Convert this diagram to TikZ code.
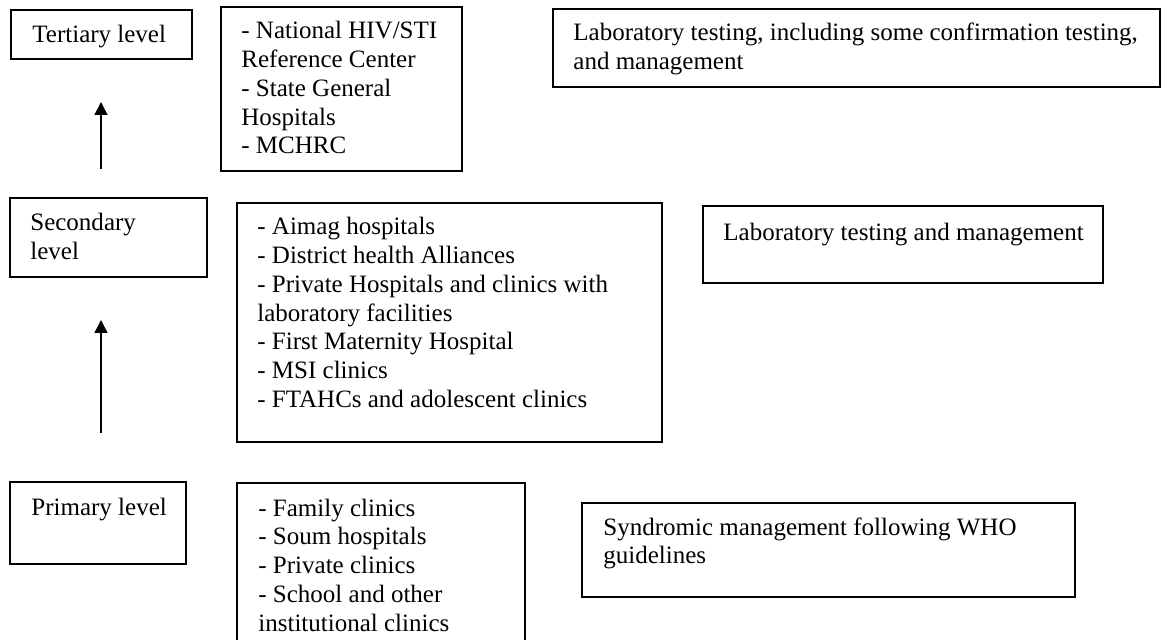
\documentclass[tikz,border=0pt]{standalone}
\usepackage{fontspec}
\setmainfont{Liberation Serif}
\usetikzlibrary{arrows.meta}
\newcommand{\boxlines}[1]{\parbox[t]{320pt}{\raggedright #1}}
\begin{document}
\begin{tikzpicture}[x=0.5pt,y=-0.5pt,
  box/.style={draw, line width=0.75pt, anchor=north west, inner sep=0pt, outer sep=0pt},
  txt/.style={anchor=base west, inner sep=0pt, font=\fontsize{12.5}{14.375}\selectfont},
  arr/.style={line width=0.75pt, -{Triangle[width=6.5pt,length=6.5pt]}}]
\useasboundingbox (0,0) rectangle (1171,640);
\clip (0,0) rectangle (1171,640);
\fill[white] (0,0) rectangle (1171,640);

% Tertiary row
\node[box, minimum width=90.5pt, minimum height=24.5pt] (tert) at (11,10) {};
\node[txt] (terttxt) at (32,43) {\boxlines{Tertiary level}};
\node[box, minimum width=120.5pt, minimum height=82pt] (tertlist) at (221,7) {};
\node[txt] (tertlisttxt) at (241,39) {\boxlines{- National HIV/STI\\Reference Center\\- State General\\Hospitals\\- MCHRC}};
\node[box, minimum width=303.5pt, minimum height=39pt] (tertright) at (553,9) {};
\node[txt] (tertrighttxt) at (573,41) {\boxlines{Laboratory testing, including some confirmation testing,\\and management}};

% Secondary row
\node[box, minimum width=98.5pt, minimum height=39.5pt] (sec) at (10,198) {};
\node[txt] (sectxt) at (30,231) {\boxlines{Secondary\\level}};
\node[box, minimum width=212.5pt, minimum height=119.5pt] (seclist) at (237,203) {};
\node[txt] (seclisttxt) at (257,235) {\boxlines{- Aimag hospitals\\- District health Alliances\\- Private Hospitals and clinics with\\laboratory facilities\\- First Maternity Hospital\\- MSI clinics\\- FTAHCs and adolescent clinics}};
\node[box, minimum width=200pt, minimum height=38.5pt] (secright) at (703,206) {};
\node[txt] (secrighttxt) at (723,241) {\boxlines{Laboratory testing and management}};

% Primary row
\node[box, minimum width=88pt, minimum height=41pt] (pri) at (10,482) {};
\node[txt] (pritxt) at (31,515) {\boxlines{Primary level}};
\node[box, minimum width=144pt, minimum height=83.5pt] (prilist) at (237,483) {};
\node[txt] (prilisttxt) at (258,516) {\boxlines{- Family clinics\\- Soum hospitals\\- Private clinics\\- School and other\\institutional clinics}};
\node[box, minimum width=246.5pt, minimum height=47pt] (priright) at (582,503) {};
\node[txt] (pririghttxt) at (603,535) {\boxlines{Syndromic management following WHO\\guidelines}};

% Arrows
\coordinate (a1tail) at (101,169);
\coordinate (a1tip) at (101,102);
\coordinate (a2tail) at (101,433);
\coordinate (a2tip) at (101,320);
\draw[arr] (a1tail) -- (a1tip);
\draw[arr] (a2tail) -- (a2tip);
\end{tikzpicture}
\end{document}
